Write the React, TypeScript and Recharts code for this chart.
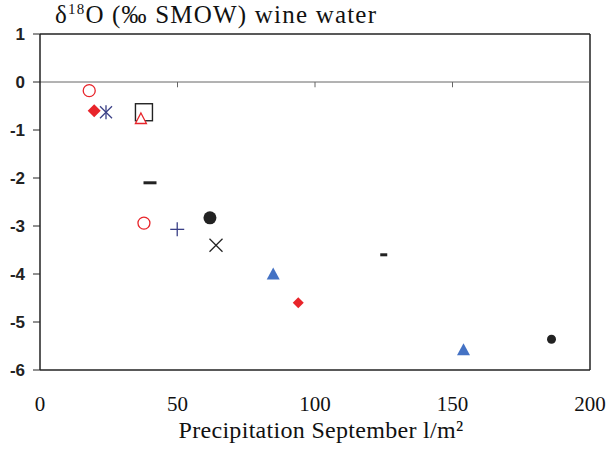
import React from 'react';
import { ScatterChart, Scatter, XAxis, YAxis, ReferenceLine } from 'recharts';

// Data
const precipitation = [17.9, 19.7, 24, 37.8, 36.7, 40, 37.8, 49.9, 61.8, 64, 84.8, 93.9, 125, 154, 186];
const delta18O = [-0.18, -0.6, -0.63, -0.63, -0.76, -2.1, -2.94, -3.07, -2.83, -3.4, -4.0, -4.6, -3.6, -5.58, -5.36];
const xTicks = [0, 50, 100, 150, 200];
const yTicks = [-6, -5, -4, -3, -2, -1, 0, 1];
const zeroLineTicks = [50, 100, 150];

// Marker style per point (separate from data)
const markerKinds = [
  'openCircleRed', 'diamondRed', 'asteriskNavy', 'openSquareBlack', 'openTriangleRed',
  'dashBlack', 'openCircleRed', 'plusNavy', 'dotBlackLarge', 'crossBlack',
  'triangleBlue', 'diamondRedSmall', 'dashBlackSmall', 'triangleBlue', 'dotBlackSmall',
];

const RED = '#e8242a';
const NAVY = '#3a3f86';
const BLUE = '#4472c4';
const BLACK = '#222';

const data = precipitation.map((x, i) => ({ x, y: delta18O[i], id: i }));

const Marker = (props: any) => {
  const { cx, cy, payload } = props;
  if (cx == null || cy == null) return null;
  const kind = markerKinds[payload.id];
  switch (kind) {
    case 'openCircleRed':
      return <circle cx={cx} cy={cy} r={6} fill="white" stroke={RED} strokeWidth={1.3} />;
    case 'diamondRed':
      return <polygon points={`${cx},${cy - 6.5} ${cx + 6.5},${cy} ${cx},${cy + 6.5} ${cx - 6.5},${cy}`} fill={RED} />;
    case 'diamondRedSmall':
      return <polygon points={`${cx},${cy - 5.5} ${cx + 5.5},${cy} ${cx},${cy + 5.5} ${cx - 5.5},${cy}`} fill={RED} />;
    case 'asteriskNavy':
      return (
        <g stroke={NAVY} strokeWidth={1.3}>
          <line x1={cx - 6} y1={cy - 6} x2={cx + 6} y2={cy + 6} />
          <line x1={cx - 6} y1={cy + 6} x2={cx + 6} y2={cy - 6} />
          <line x1={cx} y1={cy - 7} x2={cx} y2={cy + 7} />
        </g>
      );
    case 'openSquareBlack':
      return <rect x={cx - 8.5} y={cy - 8.5} width={17} height={17} fill="none" stroke={BLACK} strokeWidth={1.4} />;
    case 'openTriangleRed':
      return <polygon points={`${cx},${cy - 5.5} ${cx + 5.5},${cy + 5} ${cx - 5.5},${cy + 5}`} fill="white" stroke={RED} strokeWidth={1.3} />;
    case 'dashBlack':
      return <rect x={cx - 6.5} y={cy - 1.5} width={13} height={3} fill={BLACK} />;
    case 'dashBlackSmall':
      return <rect x={cx - 3.5} y={cy - 1.5} width={7} height={3} fill={BLACK} />;
    case 'plusNavy':
      return (
        <g stroke={NAVY} strokeWidth={1.3}>
          <line x1={cx - 7} y1={cy} x2={cx + 7} y2={cy} />
          <line x1={cx} y1={cy - 7} x2={cx} y2={cy + 7} />
        </g>
      );
    case 'dotBlackLarge':
      return <circle cx={cx} cy={cy} r={6.5} fill={BLACK} />;
    case 'dotBlackSmall':
      return <circle cx={cx} cy={cy} r={4.5} fill={BLACK} />;
    case 'crossBlack':
      return (
        <g stroke={BLACK} strokeWidth={1.3}>
          <line x1={cx - 6.5} y1={cy - 6.5} x2={cx + 6.5} y2={cy + 6.5} />
          <line x1={cx - 6.5} y1={cy + 6.5} x2={cx + 6.5} y2={cy - 6.5} />
        </g>
      );
    case 'triangleBlue':
      return <polygon points={`${cx},${cy - 6.5} ${cx + 6.5},${cy + 5.5} ${cx - 6.5},${cy + 5.5}`} fill={BLUE} />;
    default:
      return null;
  }
};

const TitleLabel = () => (
  <text x={55} y={23} fontFamily="'Liberation Serif', serif" fontSize={25} letterSpacing={1.2} fill="#111">
    <tspan>δ</tspan>
    <tspan fontSize={15} dy={-9}>18</tspan>
    <tspan dy={9}>O (‰ SMOW) wine water</tspan>
  </text>
);

const XTitleLabel = () => (
  <text x={321} y={438} textAnchor="middle" fontFamily="'Liberation Serif', serif" fontSize={24} letterSpacing={0.3} fill="#111">
    Precipitation September l/m²
  </text>
);

export default function App() {
  return (
    <div style={{ position: 'absolute', left: 0, top: 0, width: 608, height: 450, background: 'white' }}>
      <ScatterChart width={608} height={450} margin={{ top: 34, right: 18, bottom: 0, left: 0 }}>
        <XAxis
          type="number"
          dataKey="x"
          domain={[0, 200]}
          ticks={xTicks}
          interval={0}
          axisLine={{ stroke: BLACK, strokeWidth: 1.5 }}
          tickLine={false}
          tickSize={0}
          tickMargin={26}
          height={80}
          tick={{ fontFamily: "'Liberation Serif', serif", fontSize: 21, fill: '#111' }}
          label={{ content: XTitleLabel }}
        />
        <YAxis
          type="number"
          dataKey="y"
          domain={[-6, 1]}
          ticks={yTicks}
          interval={0}
          width={40}
          axisLine={{ stroke: BLACK, strokeWidth: 1.5 }}
          tickLine={{ stroke: BLACK, strokeWidth: 1 }}
          tickSize={7}
          tickMargin={8}
          tick={{ fontFamily: "'Liberation Sans', sans-serif", fontWeight: 'bold', fontSize: 17, fill: '#222' }}
          label={{ content: TitleLabel }}
        />
        <ReferenceLine y={1} stroke={BLACK} strokeWidth={1.5} ifOverflow="extendDomain" />
        <ReferenceLine x={200} stroke={BLACK} strokeWidth={1.5} ifOverflow="extendDomain" />
        <ReferenceLine y={0} stroke="#666" strokeWidth={1} />
        {zeroLineTicks.map((t) => (
          <ReferenceLine
            key={t}
            segment={[{ x: t, y: 0 }, { x: t, y: -0.11 }]}
            stroke="#666"
            strokeWidth={1}
          />
        ))}
        <Scatter data={data} shape={Marker} isAnimationActive={false} />
      </ScatterChart>
    </div>
  );
}
